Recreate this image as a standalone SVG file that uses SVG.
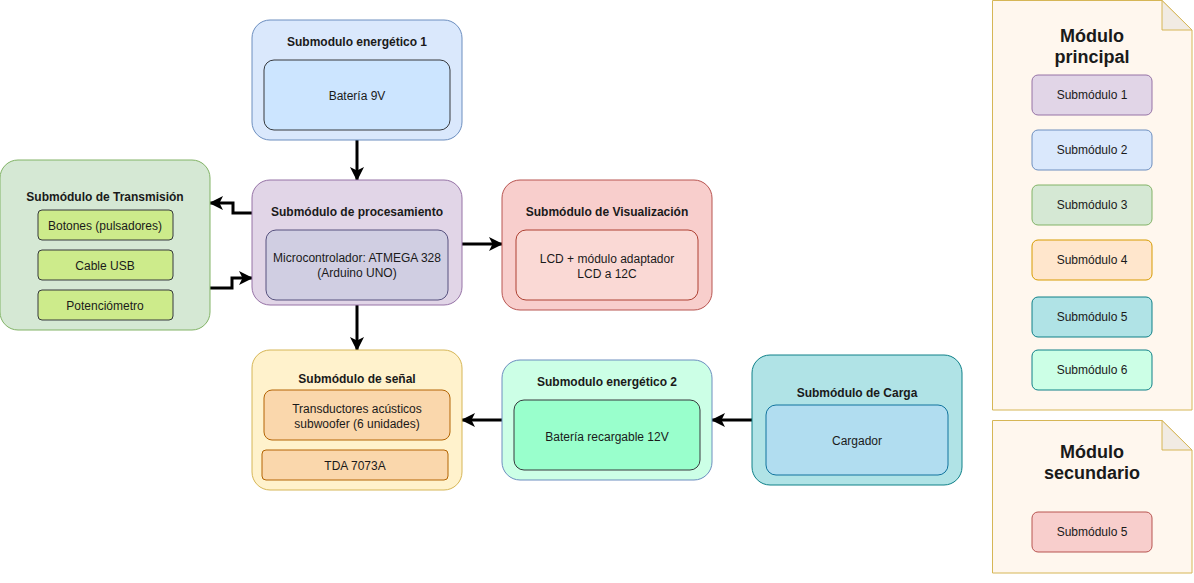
<svg xmlns="http://www.w3.org/2000/svg" width="1194" height="583" viewBox="0 0 1194 583">
<defs>
<marker id="ah2" markerWidth="14" markerHeight="14" viewBox="0 0 14 14" refX="13" refY="7" orient="auto" markerUnits="userSpaceOnUse">
<path d="M0,0 L14,7 L0,14 L3.5,7 Z" fill="#000"/>
</marker>
</defs>
<style>
text{font-family:"Liberation Sans",Arial,sans-serif;font-size:12px;fill:#1a1a1a;text-anchor:middle}
.t{font-weight:bold}
.big{font-weight:bold;font-size:18px}
.c{fill:none;stroke:#000;stroke-width:3}
</style>
<rect width="1194" height="583" fill="#fff"/>
<g id="connectors">
<path class="c" d="M357,140 V180" marker-end="url(#ah2)"/>
<path class="c" d="M252,213 H233 V203 H210" marker-end="url(#ah2)"/>
<path class="c" d="M210,288 H232 V278 H252" marker-end="url(#ah2)"/>
<path class="c" d="M462,244 H502" marker-end="url(#ah2)"/>
<path class="c" d="M357,305 V350" marker-end="url(#ah2)"/>
<path class="c" d="M502,420 H462" marker-end="url(#ah2)"/>
<path class="c" d="M752,420 H712" marker-end="url(#ah2)"/>
</g>
<g id="energetico1">
<rect x="252" y="20" width="210" height="120" rx="18" fill="#dae8fc" stroke="#6c8ebf"/>
<text class="t" x="357" y="46">Submodulo energético 1</text>
<rect x="264" y="60" width="186" height="70" rx="10" fill="#cce5ff" stroke="#36393d"/>
<text x="357" y="100">Batería 9V</text>
</g>
<g id="procesamiento">
<rect x="252" y="180" width="210" height="125" rx="18" fill="#e1d5e7" stroke="#9673a6"/>
<text class="t" x="357" y="216">Submódulo de procesamiento</text>
<rect x="266" y="230" width="182" height="70" rx="10" fill="#d0cee2" stroke="#56517e"/>
<text x="357" y="262">Microcontrolador: ATMEGA 328</text>
<text x="357" y="277">(Arduino UNO)</text>
</g>
<g id="transmision">
<rect x="0" y="160" width="210" height="170" rx="18" fill="#d5e8d4" stroke="#82b366"/>
<text class="t" x="105" y="201">Submódulo de Transmisión</text>
<rect x="38" y="210" width="135" height="30" rx="4" fill="#cdeb8b" stroke="#36393d"/>
<text x="105" y="230">Botones (pulsadores)</text>
<rect x="38" y="250" width="135" height="30" rx="4" fill="#cdeb8b" stroke="#36393d"/>
<text x="105" y="270">Cable USB</text>
<rect x="38" y="290" width="135" height="30" rx="4" fill="#cdeb8b" stroke="#36393d"/>
<text x="105" y="310">Potenciómetro</text>
</g>
<g id="visualizacion">
<rect x="502" y="180" width="210" height="130" rx="18" fill="#f8cecc" stroke="#b85450"/>
<text class="t" x="607" y="216">Submódulo de Visualización</text>
<rect x="516" y="230" width="182" height="70" rx="10" fill="#fad9d5" stroke="#ae4132"/>
<text x="607" y="263">LCD + módulo adaptador</text>
<text x="607" y="278">LCD a 12C</text>
</g>
<g id="senal">
<rect x="252" y="350" width="210" height="140" rx="18" fill="#fff2cc" stroke="#d6b656"/>
<text class="t" x="357" y="383">Submódulo de señal</text>
<rect x="264" y="390" width="186" height="50" rx="8" fill="#fad7ac" stroke="#b46504"/>
<text x="357" y="413">Transductores acústicos</text>
<text x="357" y="428">subwoofer (6 unidades)</text>
<rect x="262" y="450" width="186" height="30" rx="4" fill="#fad7ac" stroke="#b46504"/>
<text x="355" y="470">TDA 7073A</text>
</g>
<g id="energetico2">
<rect x="502" y="360" width="210" height="120" rx="18" fill="#ccffe6" stroke="#6c8ebf"/>
<text class="t" x="607" y="386">Submodulo energético 2</text>
<rect x="514" y="400" width="186" height="70" rx="10" fill="#99ffcc" stroke="#36393d"/>
<text x="607" y="441">Batería recargable 12V</text>
</g>
<g id="carga">
<rect x="752" y="355" width="210" height="130" rx="18" fill="#b0e3e6" stroke="#0e8088"/>
<text class="t" x="857" y="397">Submódulo de Carga</text>
<rect x="766" y="405" width="182" height="70" rx="10" fill="#b1ddf0" stroke="#10739e"/>
<text x="857" y="445">Cargador</text>
</g>
<g id="modulo-principal">
<path d="M992.5,0.5 H1162 L1192,30 V410 H992.5 Z" fill="#fff7ee" stroke="#d6b656"/>
<path d="M1162,0.5 V30 H1192 Z" fill="#f1ebe3" stroke="#d6b656"/>
<text class="big" x="1092" y="42">Módulo</text>
<text class="big" x="1092" y="63">principal</text>
<rect x="1032" y="75" width="120" height="40" rx="6" fill="#e1d5e7" stroke="#9673a6"/>
<text x="1092" y="99">Submódulo 1</text>
<rect x="1032" y="130" width="120" height="40" rx="6" fill="#dae8fc" stroke="#6c8ebf"/>
<text x="1092" y="154">Submódulo 2</text>
<rect x="1032" y="185" width="120" height="40" rx="6" fill="#d5e8d4" stroke="#82b366"/>
<text x="1092" y="209">Submódulo 3</text>
<rect x="1032" y="240" width="120" height="40" rx="6" fill="#ffe6cc" stroke="#d79b00"/>
<text x="1092" y="264">Submódulo 4</text>
<rect x="1032" y="297" width="120" height="40" rx="6" fill="#b0e3e6" stroke="#0e8088"/>
<text x="1092" y="321">Submódulo 5</text>
<rect x="1032" y="350" width="120" height="40" rx="6" fill="#ccffe6" stroke="#0e8088"/>
<text x="1092" y="374">Submódulo 6</text>
</g>
<g id="modulo-secundario">
<path d="M992.5,420.5 H1162 L1192,450 V573 H992.5 Z" fill="#fff7ee" stroke="#d6b656"/>
<path d="M1162,420.5 V450 H1192 Z" fill="#f1ebe3" stroke="#d6b656"/>
<text class="big" x="1092" y="458">Módulo</text>
<text class="big" x="1092" y="479">secundario</text>
<rect x="1032" y="512" width="120" height="40" rx="6" fill="#f8cecc" stroke="#b85450"/>
<text x="1092" y="536">Submódulo 5</text>
</g>
</svg>
